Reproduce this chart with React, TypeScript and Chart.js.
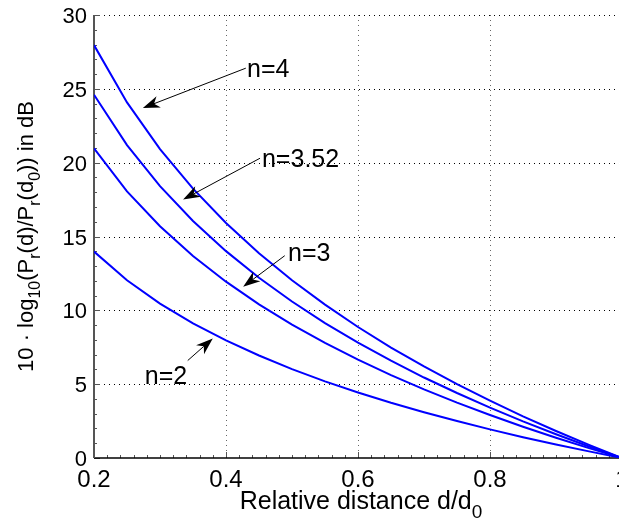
import React, { useEffect, useRef } from "react";
import { Chart, registerables } from "chart.js";

Chart.register(...registerables);

const distances = [0.2, 0.25, 0.3, 0.35, 0.4, 0.45, 0.5, 0.55, 0.6, 0.65, 0.7, 0.75, 0.8, 0.85, 0.9, 0.95, 1.0];
const lossN2 = [13.98, 12.04, 10.46, 9.12, 7.96, 6.94, 6.02, 5.19, 4.44, 3.74, 3.1, 2.5, 1.94, 1.41, 0.92, 0.45, 0];
const lossN3 = [20.97, 18.06, 15.69, 13.68, 11.94, 10.4, 9.03, 7.79, 6.66, 5.61, 4.65, 3.75, 2.91, 2.12, 1.37, 0.67, 0];
const lossN352 = [24.6, 21.19, 18.41, 16.05, 14.01, 12.21, 10.6, 9.14, 7.81, 6.59, 5.45, 4.4, 3.41, 2.48, 1.61, 0.78, 0];
const lossN4 = [27.96, 24.08, 20.92, 18.24, 15.92, 13.87, 12.04, 10.39, 8.87, 7.48, 6.2, 5.0, 3.88, 2.82, 1.83, 0.89, 0];

const xTicks = [0.2, 0.4, 0.6, 0.8, 1.0];
const xTickLabels = ["0.2", "0.4", "0.6", "0.8", "1"];
const yTicks = [0, 5, 10, 15, 20, 25, 30];
const yTickLabels = ["0", "5", "10", "15", "20", "25", "30"];

const annLabels = ["n=4", "n=3.52", "n=3", "n=2"];
const annTextX = [0.432, 0.4545, 0.494, 0.309];
const annTextY = [26.3, 20.2, 13.8, 5.5];
const annTextAlign = ["left", "left", "left", "center"];
const annTailX = [0.43, 0.4515, 0.489, 0.342];
const annTailY = [26.4, 20.3, 13.7, 6.6];
const annHeadX = [0.274, 0.335, 0.426, 0.38];
const annHeadY = [23.7, 17.5, 11.6, 8.1];

const FONT = "'Liberation Sans', Arial, Helvetica, sans-serif";

function drawRich(ctx: CanvasRenderingContext2D, parts: [string, boolean][], cx: number, baseY: number, size: number, subSize: number, subDrop: number) {
  let total = 0;
  const widths = parts.map(([t, sub]) => {
    ctx.font = `${sub ? subSize : size}px ${FONT}`;
    const w = ctx.measureText(t).width;
    total += w;
    return w;
  });
  let x = cx - total / 2;
  ctx.textAlign = "left";
  ctx.textBaseline = "alphabetic";
  parts.forEach(([t, sub], i) => {
    ctx.font = `${sub ? subSize : size}px ${FONT}`;
    ctx.fillText(t, x, baseY + (sub ? subDrop : 0));
    x += widths[i];
  });
}

const customPlugin = {
  id: "custom",
  beforeDatasetsDraw(chart: any) {
    const ctx: CanvasRenderingContext2D = chart.ctx;
    const xs = chart.scales.x;
    const ys = chart.scales.y;
    const area = chart.chartArea;
    ctx.save();
    ctx.lineWidth = 1;
    ctx.setLineDash([1, 4]);
    ctx.strokeStyle = "#000";
    yTicks.forEach((v) => {
      if (v === 0) return;
      const py = Math.round(ys.getPixelForValue(v)) + 0.5;
      ctx.beginPath();
      ctx.moveTo(area.left, py);
      ctx.lineTo(area.right, py);
      ctx.stroke();
    });
    ctx.strokeStyle = "#666";
    xTicks.forEach((v, i) => {
      if (i === 0) return;
      const px = Math.round(xs.getPixelForValue(v)) + 0.5;
      ctx.beginPath();
      ctx.moveTo(px, area.top);
      ctx.lineTo(px, area.bottom);
      ctx.stroke();
    });
    ctx.setLineDash([]);
    // minor ticks
    ctx.strokeStyle = "#555";
    for (let k = 0; k <= 40; k++) {
      const v = 0.2 + k * 0.02;
      const px = Math.round(xs.getPixelForValue(v)) + 0.5;
      ctx.beginPath();
      ctx.moveTo(px, area.bottom);
      ctx.lineTo(px, area.bottom - (k % 10 === 0 ? 6 : 3));
      ctx.stroke();
    }
    for (let k = 0; k <= 30; k++) {
      const py = Math.round(ys.getPixelForValue(k)) + 0.5;
      ctx.beginPath();
      ctx.moveTo(area.left, py);
      ctx.lineTo(area.left + (k % 5 === 0 ? 6 : 3), py);
      ctx.stroke();
    }
    // axes
    ctx.strokeStyle = "#000";
    ctx.lineWidth = 1.5;
    ctx.beginPath();
    ctx.moveTo(area.left, area.bottom);
    ctx.lineTo(area.right + 2, area.bottom);
    ctx.stroke();
    ctx.strokeStyle = "#555";
    ctx.lineWidth = 2;
    ctx.beginPath();
    ctx.moveTo(area.left, area.top);
    ctx.lineTo(area.left, area.bottom);
    ctx.stroke();

    // tick labels
    ctx.fillStyle = "#000";
    ctx.textBaseline = "alphabetic";
    ctx.font = `24px ${FONT}`;
    ctx.textAlign = "center";
    xTicks.forEach((v, i) => {
      ctx.fillText(xTickLabels[i], xs.getPixelForValue(v), area.bottom + 29);
    });
    ctx.font = `22px ${FONT}`;
    ctx.textAlign = "right";
    yTicks.forEach((v, i) => {
      ctx.fillText(yTickLabels[i], area.left - 7, ys.getPixelForValue(v) + 8);
    });
    ctx.restore();
  },
  afterDatasetsDraw(chart: any) {
    const ctx: CanvasRenderingContext2D = chart.ctx;
    const xs = chart.scales.x;
    const ys = chart.scales.y;
    ctx.save();
    ctx.fillStyle = "#000";
    ctx.strokeStyle = "#000";
    annLabels.forEach((lab, i) => {
      const tx = xs.getPixelForValue(annTailX[i]);
      const ty = ys.getPixelForValue(annTailY[i]);
      const hx = xs.getPixelForValue(annHeadX[i]);
      const hy = ys.getPixelForValue(annHeadY[i]);
      const ang = Math.atan2(hy - ty, hx - tx);
      const dx = Math.cos(ang), dy = Math.sin(ang);
      const px = -dy, py = dx;
      const L = 17, W = 6, N = 5;
      ctx.lineWidth = 1;
      ctx.beginPath();
      ctx.moveTo(tx, ty);
      ctx.lineTo(hx - (L - N) * dx, hy - (L - N) * dy);
      ctx.stroke();
      ctx.beginPath();
      ctx.moveTo(hx, hy);
      ctx.lineTo(hx - L * dx + W * px, hy - L * dy + W * py);
      ctx.lineTo(hx - (L - N) * dx, hy - (L - N) * dy);
      ctx.lineTo(hx - L * dx - W * px, hy - L * dy - W * py);
      ctx.closePath();
      ctx.fill();
      ctx.font = `25px ${FONT}`;
      ctx.textAlign = annTextAlign[i] as CanvasTextAlign;
      ctx.textBaseline = "middle";
      ctx.fillText(lab, xs.getPixelForValue(annTextX[i]), ys.getPixelForValue(annTextY[i]));
    });
    // axis titles
    const area = chart.chartArea;
    ctx.fillStyle = "#000";
    drawRich(ctx, [["Relative distance d/d", false], ["0", true]], (area.left + area.right) / 2 + 3, 509, 25, 19, 9);
    ctx.save();
    ctx.translate(33, (area.top + area.bottom) / 2);
    ctx.rotate(-Math.PI / 2);
    drawRich(
      ctx,
      [
        ["10 · log", false],
        ["10", true],
        ["(P", false],
        ["r", true],
        ["(d)/P", false],
        ["r", true],
        ["(d", false],
        ["0", true],
        [")) in dB", false],
      ],
      0,
      0,
      22,
      16,
      7
    );
    ctx.restore();
    ctx.restore();
  },
};

export default function App() {
  const canvasRef = useRef<HTMLCanvasElement | null>(null);

  useEffect(() => {
    if (!canvasRef.current) return;
    const mk = (vals: number[]) => distances.map((x, i) => ({ x, y: vals[i] }));
    const ds = (label: string, vals: number[]) => ({
      label,
      data: mk(vals),
      borderColor: "rgb(0,0,255)",
      backgroundColor: "rgb(0,0,255)",
      borderWidth: 2,
      pointRadius: 0,
      tension: 0,
      fill: false,
    });
    const chart = new Chart(canvasRef.current, {
      type: "line",
      data: {
        datasets: [ds("n=2", lossN2), ds("n=3", lossN3), ds("n=3.52", lossN352), ds("n=4", lossN4)],
      },
      options: {
        responsive: false,
        animation: false,
        devicePixelRatio: 1,
        layout: { padding: { left: 0, top: 15, right: 23, bottom: 0 } },
        plugins: { legend: { display: false }, tooltip: { enabled: false } },
        scales: {
          x: {
            type: "linear",
            min: 0.2,
            max: 1,
            grid: { display: false, drawTicks: false },
            border: { display: false },
            afterBuildTicks: (scale: any) => {
              scale.ticks = xTicks.map((v) => ({ value: v }));
            },
            afterFit: (scale: any) => {
              scale.height = 67;
            },
            ticks: { display: false },
          },
          y: {
            type: "linear",
            min: 0,
            max: 30,
            grid: { display: false, drawTicks: false },
            border: { display: false },
            afterBuildTicks: (scale: any) => {
              scale.ticks = yTicks.map((v) => ({ value: v }));
            },
            afterFit: (scale: any) => {
              scale.width = 94;
            },
            ticks: { display: false },
          },
        },
      },
      plugins: [customPlugin],
    } as any);
    return () => chart.destroy();
  }, []);

  return (
    <div style={{ position: "fixed", left: 0, top: 0, width: 619, height: 525, overflow: "hidden", background: "#fff" }}>
      <canvas ref={canvasRef} width={645} height={525} style={{ width: 645, height: 525, display: "block" }} />
    </div>
  );
}
